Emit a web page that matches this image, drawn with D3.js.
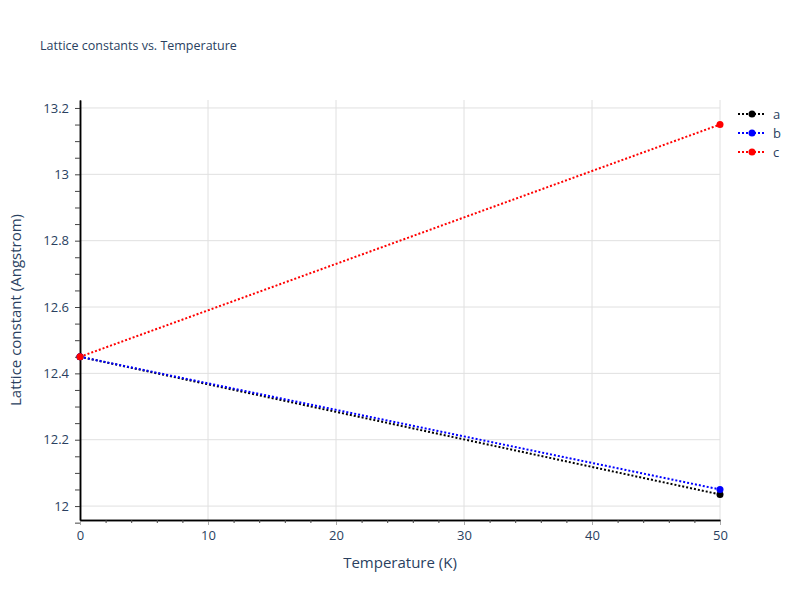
<!DOCTYPE html>
<html><head><meta charset="utf-8">
<script src="https://cdn.jsdelivr.net/npm/d3@7"></script>
<style>body{margin:0;background:#fff}text{font-family:"Open Sans",Arial,sans-serif}</style>
</head><body>
<script>
const temps = [0, 50];
const seriesNames = ['a', 'b', 'c'];
const seriesColors = ['black', 'blue', 'red'];
const aVals = [12.45, 12.035];
const bVals = [12.45, 12.05];
const cVals = [12.45, 13.15];
const xTicks = [0, 10, 20, 30, 40, 50];
const yTicks = [12, 12.2, 12.4, 12.6, 12.8, 13, 13.2];

const W = 800, H = 600, m = {l: 80, r: 80, t: 100, b: 80};
const svg = d3.select('body').append('svg').attr('width', W).attr('height', H);
const x = d3.scaleLinear().domain([0, 50]).range([m.l, W - m.r]);
const y = d3.scaleLinear().domain([11.958, 13.224]).range([H - m.b, m.t]);

// grid
svg.append('g').selectAll('line').data(xTicks.slice(1)).enter().append('line')
  .attr('x1', d => x(d)).attr('x2', d => x(d)).attr('y1', m.t).attr('y2', H - m.b)
  .attr('stroke', '#e0e0e0');
svg.append('g').selectAll('line').data(yTicks).enter().append('line')
  .attr('x1', m.l).attr('x2', W - m.r).attr('y1', d => y(d)).attr('y2', d => y(d))
  .attr('stroke', '#e0e0e0');

// axes
const xa = svg.append('g').attr('transform', `translate(0,${H - m.b})`)
  .call(d3.axisBottom(x).tickValues(xTicks).tickFormat(d3.format('d')).tickSize(5).tickSizeOuter(0).tickPadding(6));
const xm = svg.append('g').attr('transform', `translate(0,${H - m.b})`)
  .call(d3.axisBottom(x).tickValues(d3.range(2, 50, 2).filter(v => v % 10)).tickFormat('').tickSize(3).tickSizeOuter(0));
const ya = svg.append('g').attr('transform', `translate(${m.l},0)`)
  .call(d3.axisLeft(y).tickValues(yTicks).tickFormat(d => String(d)).tickSize(5).tickSizeOuter(0).tickPadding(6));
const ym = svg.append('g').attr('transform', `translate(${m.l},0)`)
  .call(d3.axisLeft(y).tickValues(d3.range(11.95, 13.22, 0.05).map(v => +v.toFixed(2)).filter(v => Math.abs(v * 5 - Math.round(v * 5)) > 1e-6)).tickFormat('').tickSize(5).tickSizeOuter(0));
[xa, xm, ya, ym].forEach(g => {
  g.select('.domain').attr('stroke', '#000').attr('stroke-width', 1.5);
  g.selectAll('.tick line').attr('stroke', '#444');
  g.selectAll('text').attr('fill', '#2a3f5f').style('font-size', '13px');
});
xa.selectAll('.tick line').attr('stroke', '#aaa');

// series
const allVals = [aVals, bVals, cVals];
const line = d3.line().x((d, i) => x(temps[i])).y(d => y(d));
allVals.forEach((vals, k) => {
  svg.append('path').datum(vals).attr('d', line).attr('fill', 'none')
    .attr('stroke', seriesColors[k]).attr('stroke-width', 2).attr('stroke-dasharray', '2,2');
  svg.append('g').selectAll('circle').data(vals).enter().append('circle')
    .attr('cx', (d, i) => x(temps[i])).attr('cy', d => y(d)).attr('r', 3.5).attr('fill', seriesColors[k]);
});

// legend
const lg = svg.append('g').selectAll('g').data(seriesNames).enter().append('g')
  .attr('transform', (d, i) => `translate(738,${114 + i * 19})`);
lg.append('line').attr('x1', 0).attr('x2', 28).attr('stroke', (d, i) => seriesColors[i])
  .attr('stroke-width', 2).attr('stroke-dasharray', '2,2');
lg.append('circle').attr('cx', 14).attr('r', 3.5).attr('fill', (d, i) => seriesColors[i]);
lg.append('text').attr('x', 35).attr('dy', '0.35em').text(d => d)
  .attr('fill', '#2a3f5f').style('font-size', '13px');

// titles
svg.append('text').attr('x', 40).attr('y', 50).text('Lattice constants vs. Temperature')
  .attr('fill', '#2a3f5f').style('font-size', '12.5px');
svg.append('text').attr('x', (m.l + W - m.r) / 2).attr('y', 568).attr('text-anchor', 'middle')
  .text('Temperature (K)').attr('fill', '#2a3f5f').style('font-size', '15px');
svg.append('text').attr('transform', `translate(21,${(m.t + H - m.b) / 2}) rotate(-90)`)
  .attr('text-anchor', 'middle').text('Lattice constant (Angstrom)')
  .attr('fill', '#2a3f5f').style('font-size', '15px');
</script>
</body></html>
